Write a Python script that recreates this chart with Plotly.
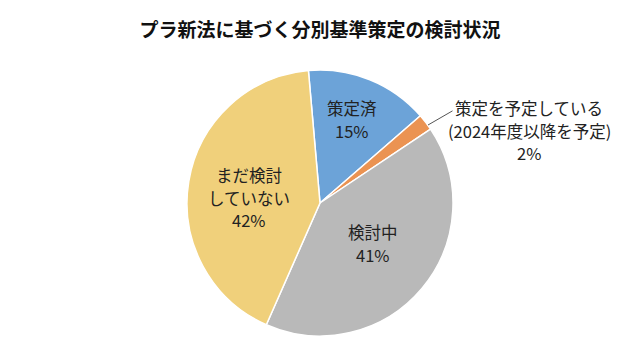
import plotly.graph_objects as go

title_text = "プラ新法に基づく分別基準策定の検討状況"
categories = ["策定済", "策定を予定している<br>(2024年度以降を予定)", "検討中", "まだ検討<br>していない"]
values = [15, 2, 41, 42]
colors = ["#6CA3D8", "#EB9352", "#B9B9B9", "#F0D07B"]

W, H = 640, 356
FONT = "Noto Sans CJK JP"
TXT = "#222222"

# label anchor centers (pixels) for each slice's text block
label_pos = [(352, 108), (529, 108), (373, 232), (249, 175)]
line_gap = 22.5

fig = go.Figure(go.Pie(
    labels=[c.replace("<br>", "") for c in categories],
    values=values,
    sort=False,
    direction="clockwise",
    rotation=-5,
    marker=dict(colors=colors, line=dict(color="white", width=1.5)),
    textinfo="none",
    hoverinfo="label+percent",
    showlegend=False,
    domain=dict(x=[187 / W, 453 / W], y=[(H - 336) / H, (H - 70) / H]),
))

annotations = []
for cat, v, (px, py) in zip(categories, values, label_pos):
    lines = cat.split("<br>") + [f"{v}%"]
    for i, ln in enumerate(lines):
        annotations.append(dict(
            x=px / W, y=1 - (py + i * line_gap) / H, xref="paper", yref="paper",
            text=ln, showarrow=False, xanchor="center", yanchor="middle",
            font=dict(family=FONT, size=16.5, color=TXT),
        ))

# leader line for the small slice
annotations.append(dict(
    x=428 / W, y=1 - 125 / H, xref="paper", yref="paper", text="",
    showarrow=True, arrowhead=0, arrowwidth=1, arrowcolor="#555555",
    ax=26, ay=-15,
))

fig.update_layout(
    width=W, height=H,
    margin=dict(l=0, r=0, t=0, b=0),
    paper_bgcolor="white", plot_bgcolor="white",
    title=dict(text=f"<b>{title_text}</b>", x=0.5, xanchor="center",
               y=1 - 30 / H, yanchor="middle",
               font=dict(family=FONT, size=19, color="#111111")),
    annotations=annotations,
)

fig.write_html("out.html", config={"displayModeBar": False},
               post_script="document.body.style.margin='0';")
